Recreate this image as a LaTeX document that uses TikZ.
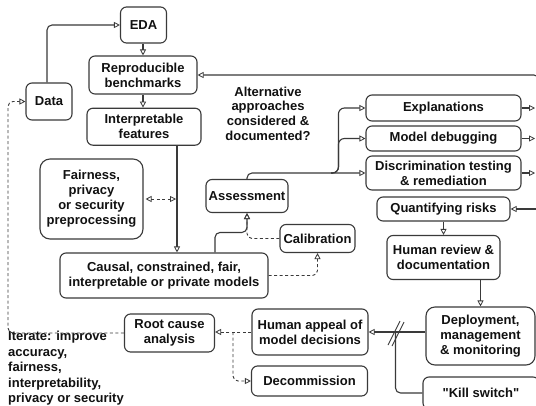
\documentclass[tikz,border=0pt]{standalone}
\usepackage{fontspec}
\setmainfont{Liberation Sans}[Ligatures=TeXOff]
\usetikzlibrary{arrows.meta,calc}
\definecolor{lc}{HTML}{3A3A3A}
\definecolor{txt}{HTML}{111111}
\begin{document}
\begin{tikzpicture}[x=1pt,y=-1pt,
  box/.style={draw=lc, line width=1.1pt, rounded corners=6pt, align=center,
    font=\bfseries\fontsize{13}{15}\selectfont, inner sep=0pt, text=txt, fill=white},
  lbl/.style={align=center, font=\bfseries\fontsize{13}{14.6}\selectfont, inner sep=0pt, text=txt},
  tip/.tip={Triangle[open,length=6pt,width=6pt,line width=0.8pt]},
  arr/.style={draw=lc, line width=1.1pt, -tip},
  plain/.style={draw=lc, line width=1.1pt},
  dsh/.style={line width=0.9pt, dash pattern=on 3pt off 2.5pt},
  rc/.style={rounded corners=5pt}
]
\clip (0,0) rectangle (536,405);
\fill[white] (0,0) rectangle (536,405);

% nodes
\node[box, minimum width=46pt, minimum height=36pt] (eda) at (143.5,25) {EDA};
\node[box, minimum width=108pt, minimum height=38pt] (rb) at (143,75) {Reproducible\\benchmarks};
\node[box, minimum width=46pt, minimum height=37pt] (data) at (49,101.5) {Data};
\node[box, minimum width=114pt, minimum height=37pt] (if) at (144,126.7) {Interpretable\\features};
\node[lbl] (alt) at (268,113.5) {Alternative\\approaches\\considered \&\\documented?};
\node[box, minimum width=155pt, minimum height=26pt] (expl) at (443.5,108) {Explanations};
\node[box, minimum width=155pt, minimum height=25pt] (mdbg) at (443.5,138.5) {Model debugging};
\node[box, minimum width=155pt, minimum height=34pt] (disc) at (443.5,173) {Discrimination testing\\\& remediation};
\node[box, minimum width=133pt, minimum height=24pt] (qr) at (443.5,209) {Quantifying risks};
\node[box, rounded corners=10pt, minimum width=103pt, minimum height=80pt] (fair) at (91.5,199) {Fairness,\\privacy\\or security\\preprocessing};
\node[box, minimum width=82pt, minimum height=33pt] (assess) at (247,196) {Assessment};
\node[box, minimum width=75pt, minimum height=28pt] (calib) at (317.5,238.5) {Calibration};
\node[box, minimum width=208pt, minimum height=45pt] (causal) at (164,275.5) {Causal, constrained, fair,\\interpretable or private models};
\node[box, minimum width=113pt, minimum height=44pt] (hr) at (443.5,257.5) {Human review \&\\documentation};
\node[box, rounded corners=9pt, minimum width=109pt, minimum height=58pt] (dep) at (480.5,336) {Deployment,\\management\\\& monitoring};
\node[box, minimum width=116pt, minimum height=46pt] (appeal) at (310,332) {Human appeal of\\model decisions};
\node[box, minimum width=116pt, minimum height=30pt] (decom) at (309.5,381) {Decommission};
\node[box, minimum width=90pt, minimum height=38pt] (rca) at (169.5,333) {Root cause\\analysis};
\node[box, minimum width=116pt, minimum height=32pt] (kill) at (481,393) {"Kill switch"};
\node[lbl, align=left, anchor=west, font=\bfseries\fontsize{13}{15.5}\selectfont] (iter) at (8,368.5) {Iterate: improve\\accuracy,\\fairness,\\interpretability,\\privacy or security};

% coordinates
\coordinate (fj) at (176,199);
\coordinate (br) at (331,173);
\coordinate (oe) at (535,108);
\coordinate (om) at (535,138.5);
\coordinate (od) at (535,173);
\coordinate (loop) at (539,160);
\coordinate (qin) at (545,209);
\coordinate (sl) at (395.5,332);
\coordinate (dj) at (233,332);
\coordinate (lcol) at (8,220);

% connectors
\draw[arr, rc] ([xshift=-2pt]data.north) |- (eda.west);
\draw[arr] (eda.south -| rb.north) -- (rb.north);
\draw[arr] (rb.south) -- (rb.south |- if.north);
\draw[arr] ([xshift=33pt]if.south) -- ([xshift=13pt]causal.north);
\draw[plain, dsh, tip-tip] ([xshift=2pt]fair.east) -- (fj);
\draw[arr, rc] ([xshift=51pt]causal.north) -- ++(0,-20) -| (assess.south);
\draw[arr, dsh, rc] (calib.west) -| (assess.south);
\draw[arr, dsh, rc] (causal.east) -| (calib.south);
\draw[arr, rc] (assess.north) |- (disc.west);
\draw[arr, rounded corners=6pt] (br) -| ([xshift=-27pt]mdbg.west) -- (mdbg.west);
\draw[arr, rounded corners=6pt] (br) -| ([xshift=-27pt]expl.west) -- (expl.west);
\draw[arr] (expl.east) -- (oe);
\draw[arr] (mdbg.east) -- (om);
\draw[arr] (disc.east) -- (od);
\draw[arr, rc] (loop) |- (rb.east);
\draw[arr] (qin) -- (qr.east);
\draw[arr] (qr.south) -- (hr.north);
\draw[arr] (hr.south -| dep.north) -- (dep.north);
\draw[arr] (dep.west |- appeal.east) -- (appeal.east);
\draw[plain, rc] (sl) |- (kill.west);
\draw[plain, line width=0.9pt] (388,345) -- (400,321) (392,346) -- (404,322);
\draw[arr, dsh] (appeal.west) -- (rca.east |- appeal.west);
\draw[arr, dsh, rc] (dj) |- (decom.west);
\draw[arr, dsh, rc] (rca.west) -| (lcol) |- (data.west);
\end{tikzpicture}
\end{document}
